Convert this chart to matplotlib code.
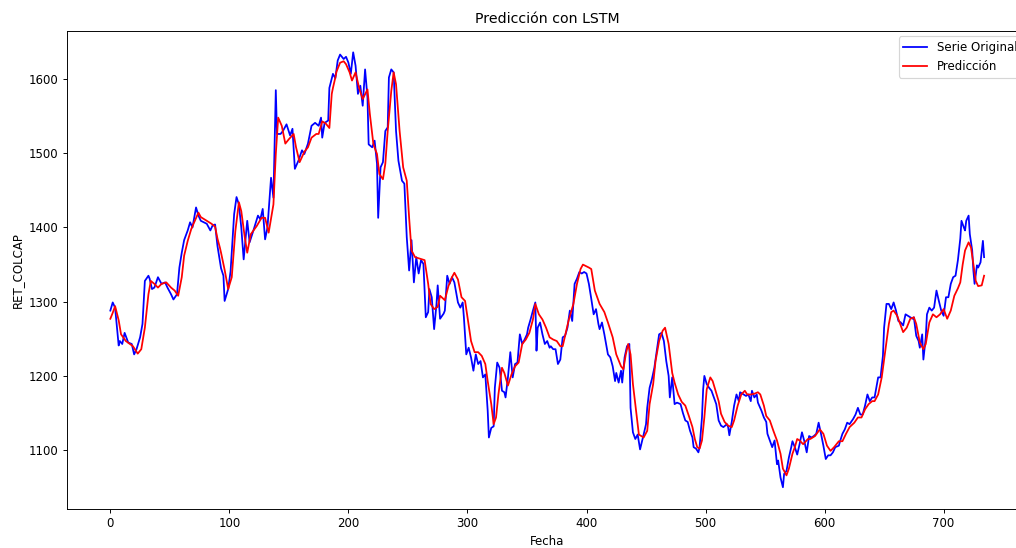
import matplotlib
matplotlib.use('Agg')
import matplotlib.pyplot as plt

# Serie original (indice de fecha, valor)
t_orig = [0, 2, 4, 7, 8, 10, 12, 15, 18, 20, 22, 25, 27, 29, 32, 33, 35, 37, 40, 43,
          46, 48, 51, 53, 56, 58, 60, 62, 65, 67, 69, 72, 74, 76, 81, 84, 86, 88, 90, 93,
          95, 96, 99, 101, 104, 106, 108, 110, 112, 115, 117, 120, 124, 126, 128, 130, 132, 135, 137, 139,
          140, 143, 145, 148, 151, 153, 155, 158, 161, 163, 166, 169, 172, 175, 177, 178, 180, 183, 184, 187,
          189, 191, 193, 196, 198, 200, 202, 204, 206, 208, 210, 212, 214, 216, 217, 220, 222, 224, 225, 227,
          229, 231, 233, 234, 236, 238, 240, 242, 245, 247, 249, 251, 253, 255, 257, 259, 261, 263, 265, 267,
          268, 270, 272, 274, 275, 277, 280, 281, 283, 285, 287, 289, 292, 294, 296, 297, 299, 301, 303, 305,
          307, 309, 311, 313, 315, 317, 318, 320, 322, 323, 325, 327, 329, 331, 332, 334, 336, 338, 340, 342,
          344, 346, 348, 350, 351, 353, 355, 357, 358, 359, 361, 363, 365, 367, 369, 370, 372, 374, 376, 378,
          380, 382, 384, 386, 388, 390, 392, 394, 396, 398, 400, 402, 404, 406, 408, 410, 411, 413, 415, 416,
          418, 420, 422, 424, 425, 427, 429, 430, 432, 434, 436, 437, 439, 441, 443, 445, 448, 450, 451, 453,
          455, 457, 459, 461, 463, 465, 467, 469, 470, 472, 474, 476, 479, 481, 483, 485, 487, 489, 490, 492,
          494, 495, 497, 498, 499, 501, 503, 505, 507, 509, 511, 513, 515, 518, 519, 520, 522, 524, 526, 528,
          529, 532, 534, 536, 538, 539, 541, 543, 544, 547, 549, 551, 552, 554, 556, 558, 560, 561, 563, 565,
          566, 568, 570, 572, 573, 575, 577, 579, 581, 583, 585, 587, 589, 591, 593, 595, 597, 599, 601, 603,
          605, 607, 609, 612, 613, 615, 617, 619, 621, 624, 626, 628, 630, 632, 634, 636, 638, 640, 642, 643,
          645, 647, 649, 650, 652, 654, 656, 658, 660, 662, 664, 666, 668, 670, 672, 674, 675, 677, 679, 680,
          682, 683, 685, 686, 688, 690, 692, 694, 696, 698, 700, 702, 704, 706, 708, 710, 712, 714, 715, 717,
          718, 719, 721, 722, 724, 725, 726, 728, 729, 731, 732, 733, 734]
v_orig = [1288, 1299, 1292, 1241, 1247, 1243, 1258, 1245, 1243, 1229, 1236, 1252, 1270, 1328, 1335, 1331, 1317, 1319, 1333, 1324,
          1326, 1319, 1310, 1303, 1310, 1346, 1366, 1383, 1396, 1407, 1400, 1427, 1416, 1409, 1405, 1396, 1403, 1404, 1375, 1345,
          1335, 1301, 1317, 1341, 1418, 1441, 1431, 1400, 1357, 1409, 1380, 1395, 1416, 1411, 1425, 1384, 1400, 1467, 1440, 1585,
          1526, 1526, 1530, 1539, 1524, 1533, 1479, 1490, 1504, 1499, 1513, 1537, 1541, 1537, 1548, 1521, 1541, 1544, 1588, 1607,
          1601, 1625, 1633, 1627, 1630, 1622, 1607, 1636, 1618, 1580, 1591, 1564, 1613, 1575, 1512, 1508, 1517, 1486, 1413, 1481,
          1488, 1530, 1535, 1602, 1613, 1609, 1530, 1490, 1463, 1459, 1387, 1342, 1383, 1326, 1360, 1338, 1356, 1351, 1279, 1286,
          1317, 1306, 1263, 1297, 1322, 1277, 1284, 1288, 1335, 1324, 1333, 1326, 1299, 1292, 1299, 1279, 1229, 1238, 1225, 1207,
          1229, 1216, 1220, 1198, 1202, 1153, 1117, 1130, 1132, 1184, 1218, 1211, 1180, 1178, 1171, 1198, 1232, 1198, 1216, 1218,
          1256, 1243, 1249, 1256, 1265, 1276, 1288, 1299, 1234, 1265, 1272, 1256, 1243, 1247, 1238, 1240, 1236, 1236, 1216, 1222,
          1252, 1254, 1265, 1288, 1274, 1324, 1331, 1340, 1338, 1340, 1338, 1324, 1304, 1283, 1290, 1270, 1263, 1272, 1256, 1247,
          1229, 1225, 1213, 1193, 1204, 1191, 1207, 1191, 1225, 1240, 1243, 1157, 1124, 1115, 1121, 1101, 1121, 1135, 1157, 1184,
          1196, 1211, 1234, 1256, 1258, 1247, 1220, 1200, 1171, 1198, 1162, 1164, 1162, 1150, 1140, 1138, 1126, 1117, 1104, 1102,
          1097, 1104, 1144, 1182, 1200, 1189, 1184, 1180, 1171, 1162, 1140, 1133, 1131, 1135, 1131, 1120, 1138, 1160, 1175, 1166,
          1178, 1175, 1173, 1175, 1166, 1180, 1171, 1175, 1164, 1153, 1144, 1138, 1122, 1113, 1104, 1113, 1081, 1086, 1063, 1050,
          1068, 1072, 1090, 1104, 1112, 1104, 1094, 1108, 1124, 1112, 1097, 1119, 1117, 1119, 1122, 1137, 1122, 1106, 1088, 1093,
          1093, 1097, 1104, 1106, 1112, 1122, 1128, 1137, 1135, 1142, 1148, 1157, 1148, 1148, 1160, 1175, 1166, 1171, 1171, 1180,
          1198, 1198, 1227, 1265, 1297, 1297, 1290, 1299, 1288, 1274, 1272, 1268, 1283, 1281, 1279, 1277, 1279, 1254, 1247, 1238,
          1256, 1222, 1252, 1283, 1292, 1288, 1292, 1315, 1301, 1288, 1281, 1306, 1306, 1324, 1333, 1335, 1356, 1385, 1409, 1400,
          1396, 1409, 1416, 1391, 1369, 1342, 1324, 1349, 1346, 1353, 1367, 1382, 1360]

# Prediccion del modelo LSTM
t_pred = [0, 2, 4, 7, 9, 13, 19, 23, 26, 29, 32, 34, 37, 40, 43, 47, 51, 54, 57, 60,
          62, 65, 68, 71, 74, 76, 81, 85, 88, 90, 92, 93, 96, 99, 102, 105, 108, 110, 113, 115,
          118, 123, 127, 130, 133, 137, 139, 141, 144, 147, 150, 154, 156, 159, 163, 166, 169, 173, 175, 178,
          181, 184, 186, 187, 189, 190, 193, 196, 198, 201, 203, 206, 209, 212, 216, 218, 221, 224, 226, 229,
          231, 233, 236, 238, 240, 243, 246, 249, 251, 253, 256, 260, 264, 267, 269, 272, 275, 277, 281, 284,
          287, 289, 292, 295, 298, 300, 303, 306, 309, 312, 315, 317, 320, 322, 324, 326, 329, 331, 334, 337,
          340, 343, 346, 349, 352, 355, 357, 360, 363, 366, 369, 372, 375, 378, 380, 382, 385, 389, 392, 395,
          397, 402, 404, 407, 411, 415, 418, 422, 425, 429, 431, 433, 435, 437, 439, 442, 444, 448, 451, 453,
          456, 458, 461, 464, 466, 469, 472, 474, 477, 480, 483, 486, 489, 491, 493, 495, 497, 499, 501, 504,
          506, 508, 511, 513, 516, 519, 522, 524, 527, 530, 533, 535, 538, 541, 544, 546, 549, 551, 554, 557,
          560, 563, 565, 568, 570, 572, 573, 575, 577, 579, 582, 586, 588, 592, 596, 599, 602, 605, 608, 612,
          615, 618, 621, 625, 628, 631, 634, 637, 640, 642, 645, 648, 651, 654, 656, 658, 661, 664, 666, 669,
          672, 675, 677, 680, 683, 685, 688, 691, 694, 697, 700, 703, 706, 709, 712, 714, 716, 718, 721, 723,
          725, 727, 729, 732, 734]
v_pred = [1277, 1285, 1294, 1275, 1256, 1247, 1240, 1230, 1236, 1265, 1310, 1328, 1324, 1319, 1324, 1326, 1319, 1315, 1308, 1333,
          1362, 1382, 1398, 1409, 1420, 1414, 1409, 1405, 1401, 1385, 1373, 1366, 1343, 1317, 1333, 1395, 1434, 1422, 1386, 1366,
          1391, 1402, 1413, 1413, 1393, 1431, 1499, 1548, 1537, 1513, 1519, 1526, 1508, 1488, 1502, 1508, 1521, 1526, 1526, 1543,
          1540, 1534, 1580, 1588, 1602, 1610, 1622, 1624, 1620, 1609, 1598, 1609, 1588, 1573, 1586, 1553, 1512, 1499, 1472, 1465,
          1486, 1530, 1584, 1609, 1593, 1530, 1481, 1463, 1413, 1369, 1360, 1358, 1356, 1324, 1297, 1290, 1293, 1308, 1302, 1321,
          1333, 1339, 1330, 1306, 1301, 1279, 1247, 1232, 1232, 1227, 1216, 1193, 1162, 1135, 1144, 1175, 1211, 1204, 1187, 1202,
          1213, 1218, 1243, 1249, 1258, 1276, 1297, 1283, 1276, 1265, 1252, 1249, 1247, 1240, 1240, 1254, 1275, 1297, 1324, 1344,
          1350, 1346, 1344, 1315, 1297, 1286, 1272, 1252, 1229, 1213, 1209, 1229, 1243, 1229, 1189, 1148, 1121, 1117, 1126, 1162,
          1189, 1220, 1247, 1261, 1265, 1243, 1204, 1191, 1175, 1165, 1160, 1146, 1131, 1115, 1104, 1102, 1113, 1144, 1182, 1198,
          1193, 1182, 1166, 1149, 1138, 1133, 1131, 1140, 1160, 1175, 1180, 1175, 1175, 1176, 1178, 1175, 1160, 1146, 1140, 1126,
          1113, 1095, 1075, 1066, 1075, 1088, 1095, 1104, 1115, 1113, 1108, 1115, 1115, 1119, 1128, 1122, 1106, 1099, 1104, 1112,
          1112, 1122, 1131, 1137, 1144, 1144, 1155, 1162, 1166, 1166, 1175, 1198, 1234, 1270, 1286, 1288, 1281, 1268, 1259, 1265,
          1277, 1279, 1270, 1245, 1236, 1243, 1272, 1283, 1279, 1283, 1290, 1277, 1288, 1308, 1318, 1326, 1350, 1369, 1380, 1373,
          1351, 1328, 1321, 1322, 1335]

# figura a 85 dpi; el eje se extiende un poco fuera del borde derecho
fig = plt.figure(figsize=(1016 / 85, 548 / 85), dpi=85)
ax = fig.add_axes([0.0656, 0.0712, 0.946, 0.873])

ax.plot(t_orig, v_orig, color='blue', label='Serie Original')
ax.plot(t_pred, v_pred, color='red', label='Predicción')

ax.set_title('Predicción con LSTM')
ax.set_xlabel('Fecha')
ax.set_ylabel('RET_COLCAP')
ax.legend(loc='upper right')

fig.savefig('out.png', dpi=85)
